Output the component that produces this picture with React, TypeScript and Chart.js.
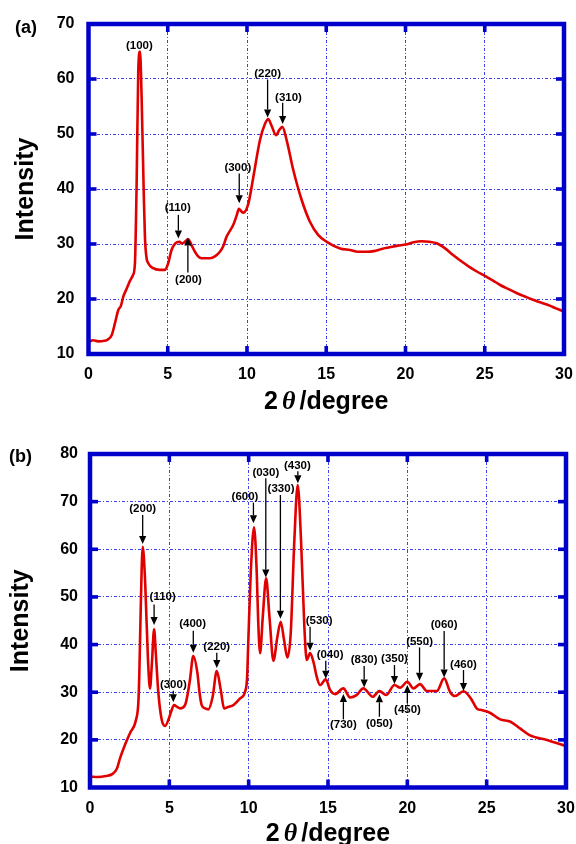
import React, { useEffect, useRef } from 'react';
import { Chart, registerables } from 'chart.js';

Chart.register(...registerables);

// ---------- Panel (a) data ----------
const xA = [0, 0.3, 0.6, 1.0, 1.2, 1.46, 1.67, 1.88, 2.05, 2.19, 2.4, 2.6, 2.8, 2.93, 3.04, 3.14, 3.25, 3.35, 3.48, 3.56, 3.66, 3.77, 4.08, 4.5, 4.82, 5.03, 5.24, 5.56, 5.75, 5.87, 6.0, 6.29, 6.5, 6.71, 6.9, 7.13, 7.66, 8.0, 8.29, 8.5, 8.71, 9.13, 9.35, 9.49, 9.62, 9.77, 10.09, 10.4, 10.82, 11.13, 11.34, 11.55, 11.83, 12.05, 12.23, 12.5, 12.92, 13.45, 13.97, 14.5, 15.03, 15.87, 16.5, 17, 17.5, 18, 18.5, 19, 19.5, 20, 20.5, 21, 21.5, 22, 22.5, 23, 23.5, 24, 24.5, 25, 25.5, 26, 26.5, 27, 27.5, 28, 28.5, 29, 29.5, 30];
const yA = [12.2, 12.5, 12.3, 12.4, 12.6, 13.4, 15.6, 18.0, 18.8, 20.4, 21.8, 23.2, 24.3, 26.5, 41.6, 61.6, 65.0, 56.8, 40, 31.3, 27.5, 26.5, 25.6, 25.3, 25.3, 26.5, 28.9, 30.3, 30.4, 30.1, 30.2, 30.85, 29.8, 28.6, 27.8, 27.4, 27.4, 27.8, 28.6, 29.6, 31.3, 33.45, 35.2, 36.4, 36.0, 35.7, 37.4, 42.2, 48.9, 51.8, 52.7, 51.5, 49.8, 50.8, 51.3, 48.9, 43.45, 38.0, 34.05, 31.6, 30.4, 29.2, 28.9, 28.6, 28.6, 28.7, 29.1, 29.4, 29.7, 29.9, 30.3, 30.5, 30.4, 30.1, 29.2, 28.0, 26.9, 25.9, 25.0, 24.2, 23.4, 22.5, 21.8, 21.1, 20.5, 19.9, 19.4, 18.9, 18.3, 17.7];

const peaksA = ['(100)', '(110)', '(200)', '(300)', '(220)', '(310)'];
const peakLabelXA = [3.21, 5.63, 6.31, 9.42, 11.3, 12.62];
const peakLabelYA = [66.1, 36.5, 23.45, 43.9, 60.85, 56.6];
const arrowXA: (number | null)[] = [null, 5.67, 6.27, 9.51, 11.3, 12.25];
const arrowTailYA: (number | null)[] = [null, 35.3, 24.8, 42.8, 59.9, 55.7];
const arrowTipYA: (number | null)[] = [null, 31.0, 31.2, 37.4, 53.0, 51.8];

// ---------- Panel (b) data ----------
const xB = [0, 0.5, 1.0, 1.4, 1.7, 1.89, 2.2, 2.52, 2.9, 3.05, 3.11, 3.2, 3.32, 3.45, 3.57, 3.68, 3.78, 3.9, 4.04, 4.15, 4.31, 4.52, 4.73, 4.94, 5.1, 5.3, 5.5, 5.67, 5.99, 6.15, 6.3, 6.51, 6.77, 6.9, 7.04, 7.25, 7.46, 7.73, 7.99, 8.24, 8.45, 8.7, 9.04, 9.46, 9.77, 9.9, 9.98, 10.13, 10.34, 10.51, 10.6, 10.72, 10.89, 11.1, 11.31, 11.56, 11.81, 12.02, 12.23, 12.44, 12.65, 12.88, 13.09, 13.3, 13.51, 13.66, 13.87, 14.08, 14.29, 14.5, 14.86, 15.13, 15.45, 15.97, 16.39, 16.8, 17.23, 17.82, 18.24, 18.66, 19.19, 19.55, 20.0, 20.39, 20.8, 21.23, 21.86, 22.32, 22.7, 23.0, 23.54, 24.0, 24.4, 24.59, 25.2, 25.85, 26.5, 27.1, 27.7, 28.8, 30];
const yB = [12.3, 12.2, 12.4, 12.8, 14.0, 16.1, 18.9, 21.4, 24.2, 28, 34, 48, 60.5, 55, 44.5, 35, 30.8, 36, 43.2, 38, 29.8, 24.2, 22.9, 24.2, 25.8, 27.3, 26.9, 26.6, 27.3, 29.5, 32.6, 37.6, 34, 30, 27.3, 26.6, 26.4, 29.05, 34.45, 30.5, 26.6, 26.9, 27.3, 28.7, 30.1, 33, 40.95, 55, 64.6, 55, 45, 38.2, 45.85, 53.9, 45.85, 36.6, 41.65, 44.8, 40.95, 37.3, 42.35, 61.95, 73.5, 61.95, 43.75, 36.75, 38.2, 36.4, 33.25, 31.5, 32.7, 30.5, 29.6, 30.8, 28.9, 29.4, 30.8, 29.05, 30.25, 29.4, 31.5, 30.95, 32.2, 30.8, 31.7, 30.25, 30.25, 32.9, 30.0, 29.2, 30.2, 28.7, 26.5, 26.3, 25.7, 24.3, 23.8, 22.4, 21.0, 19.97, 18.7];

const peaksB = ['(200)', '(110)', '(300)', '(400)', '(220)', '(600)', '(030)', '(330)', '(430)', '(530)', '(040)', '(730)', '(830)', '(050)', '(350)', '(450)', '(550)', '(060)', '(460)'];
const peakLabelXB = [3.32, 4.58, 5.25, 6.47, 7.99, 9.77, 11.08, 12.04, 13.07, 14.44, 15.13, 15.97, 17.28, 18.24, 19.19, 20.01, 20.77, 22.32, 23.54];
const peakLabelYB = [68.45, 50.05, 31.5, 44.25, 39.55, 71.05, 76.15, 72.6, 77.55, 45.0, 37.8, 23.1, 36.9, 23.45, 36.97, 26.26, 40.5, 44.1, 35.85];
const arrowXB: (number | null)[] = [3.32, 4.04, 5.25, 6.51, 7.99, 10.3, 11.08, 12.0, 13.1, 13.87, 14.86, 15.97, 17.28, 18.24, 19.19, 20.0, 20.77, 22.32, 23.54];
const arrowTailYB: (number | null)[] = [67.2, 48.4, 30.3, 42.9, 38.3, 69.8, 74.9, 71.4, 76.4, 43.75, 36.6, 24.3, 35.5, 24.85, 35.7, 27.7, 39.4, 42.85, 34.66];
const arrowTipYB: (number | null)[] = [61.1, 44.1, 27.9, 38.3, 35.1, 65.45, 54.1, 45.4, 73.85, 38.7, 32.8, 29.6, 31.0, 29.55, 31.7, 31.5, 32.4, 33.1, 30.25];

const xTickValues = [0, 5, 10, 15, 20, 25, 30];

const FONT = '"Liberation Sans", Arial, sans-serif';
const FRAME = '#0000CC';

type PanelProps = {
  tag: string;
  xs: number[];
  ys: number[];
  yMax: number;
  labels: string[];
  lx: number[];
  ly: number[];
  ax: (number | null)[];
  tail: (number | null)[];
  tip: (number | null)[];
  geom: {
    axisW: number; padR: number; padT: number; axisH: number;
    tagX: number; tagY: number; yTitleX: number; xTitleY: number;
    yTickPad: number; xTickPad: number;
  };
};

function Panel(p: PanelProps) {
  const ref = useRef<HTMLCanvasElement | null>(null);
  useEffect(() => {
    const canvas = ref.current;
    if (!canvas) return;
    const g = p.geom;
    const yTicks: number[] = [];
    for (let v = 10; v <= p.yMax; v += 10) yTicks.push(v);

    const decor = {
      id: 'decor',
      afterDatasetsDraw(chart: any) {
        const { ctx, chartArea, scales } = chart;
        const { left, right, top, bottom } = chartArea;
        const sx = scales.x, sy = scales.y;
        ctx.save();
        // frame
        ctx.strokeStyle = FRAME;
        ctx.lineWidth = 4.5;
        ctx.strokeRect(left, top, right - left, bottom - top);
        ctx.fillStyle = FRAME;
        const tl = 8, tw = 3.6;
        xTickValues.slice(1, -1).forEach((v) => {
          const px = sx.getPixelForValue(v);
          ctx.fillRect(px - tw / 2, bottom - tl, tw, tl);
          ctx.fillRect(px - tw / 2, top, tw, tl);
        });
        yTicks.slice(1, -1).forEach((v) => {
          const py = sy.getPixelForValue(v);
          ctx.fillRect(left, py - tw / 2, tl, tw);
          ctx.fillRect(right - tl, py - tw / 2, tl, tw);
        });
        // annotations
        ctx.fillStyle = '#000';
        ctx.strokeStyle = '#000';
        ctx.font = 'bold 11.5px ' + FONT;
        ctx.textAlign = 'center';
        ctx.textBaseline = 'middle';
        p.labels.forEach((t, i) => {
          ctx.fillText(t, sx.getPixelForValue(p.lx[i]), sy.getPixelForValue(p.ly[i]));
          const a = p.ax[i], y1 = p.tail[i], y2 = p.tip[i];
          if (a == null || y1 == null || y2 == null) return;
          const px = sx.getPixelForValue(a);
          const p1 = sy.getPixelForValue(y1);
          const p2 = sy.getPixelForValue(y2);
          const dir = p2 > p1 ? 1 : -1;
          const hl = 8, hw = 3.6;
          ctx.lineWidth = 1.3;
          ctx.beginPath();
          ctx.moveTo(px, p1);
          ctx.lineTo(px, p2 - dir * hl);
          ctx.stroke();
          ctx.beginPath();
          ctx.moveTo(px, p2);
          ctx.lineTo(px - hw, p2 - dir * hl);
          ctx.lineTo(px + hw, p2 - dir * hl);
          ctx.closePath();
          ctx.fill();
        });
        // panel tag
        ctx.textAlign = 'left';
        ctx.textBaseline = 'alphabetic';
        ctx.font = 'bold 18px ' + FONT;
        ctx.fillText(p.tag, g.tagX, g.tagY);
        // y title
        ctx.save();
        ctx.translate(g.yTitleX, (top + bottom) / 2);
        ctx.rotate(-Math.PI / 2);
        ctx.textAlign = 'center';
        ctx.font = 'bold 25px ' + FONT;
        ctx.fillText('Intensity', 0, 0);
        ctx.restore();
        // x title: 2θ /degree with italic theta
        const f1 = 'bold 25px ' + FONT;
        const f2 = 'italic bold 26px "Liberation Serif", serif';
        ctx.font = f1;
        const w1 = ctx.measureText('2').width;
        const w3 = ctx.measureText('/degree').width;
        ctx.font = f2;
        const w2 = ctx.measureText('θ').width;
        const gap1 = 4, gap2 = 4;
        const total = w1 + gap1 + w2 + gap2 + w3;
        let cx = (left + right) / 2 - total / 2;
        ctx.textAlign = 'left';
        ctx.font = f1;
        ctx.fillText('2', cx, g.xTitleY);
        cx += w1 + gap1;
        ctx.font = f2;
        ctx.fillText('θ', cx, g.xTitleY);
        cx += w2 + gap2;
        ctx.font = f1;
        ctx.fillText('/degree', cx, g.xTitleY);
        ctx.restore();
      },
    };

    const chart = new Chart(canvas, {
      type: 'line',
      data: {
        datasets: [
          {
            data: p.xs.map((x, i) => ({ x, y: p.ys[i] })),
            borderColor: 'rgb(225,0,0)',
            borderWidth: 2.6,
            pointRadius: 0,
            cubicInterpolationMode: 'monotone',
            fill: false,
          },
        ],
      },
      options: {
        responsive: false,
        maintainAspectRatio: false,
        animation: false,
        events: [],
        layout: { padding: { left: 0, right: g.padR, top: g.padT, bottom: 0 } },
        plugins: { legend: { display: false }, tooltip: { enabled: false }, title: { display: false } },
        scales: {
          x: {
            type: 'linear',
            min: 0,
            max: 30,
            afterFit: (s: any) => { s.height = g.axisH; s.paddingLeft = 0; s.paddingRight = 0; },
            afterBuildTicks: (s: any) => { s.ticks = xTickValues.map((v) => ({ value: v })); },
            ticks: {
              font: { family: FONT, size: 16, weight: 'bold' },
              color: '#000',
              padding: g.xTickPad,
              maxRotation: 0,
            },
            grid: { color: 'rgba(30,30,230,0.85)', lineWidth: 1, drawTicks: false },
            border: { display: false, dash: [3, 2, 1, 2] },
          },
          y: {
            type: 'linear',
            min: 10,
            max: p.yMax,
            afterFit: (s: any) => { s.width = g.axisW; s.paddingTop = 0; s.paddingBottom = 0; },
            afterBuildTicks: (s: any) => { s.ticks = yTicks.map((v) => ({ value: v })); },
            ticks: {
              font: { family: FONT, size: 16, weight: 'bold' },
              color: '#000',
              padding: g.yTickPad,
            },
            grid: { color: 'rgba(30,30,230,0.85)', lineWidth: 1, drawTicks: false },
            border: { display: false, dash: [3, 2, 1, 2] },
          },
        },
      },
      plugins: [decor],
    } as any);
    return () => chart.destroy();
  }, []);
  return <canvas ref={ref} width={576} height={422} style={{ display: 'block', width: 576, height: 422 }} />;
}

export default function App() {
  return (
    <div style={{ position: 'absolute', left: 0, top: 0, width: 576, height: 844, background: '#fff', overflow: 'hidden' }}>
      <Panel
        tag="(a)"
        xs={xA}
        ys={yA}
        yMax={70}
        labels={peaksA}
        lx={peakLabelXA}
        ly={peakLabelYA}
        ax={arrowXA}
        tail={arrowTailYA}
        tip={arrowTipYA}
        geom={{ axisW: 88.5, padR: 12, padT: 24, axisH: 68, tagX: 15, tagY: 33, yTitleX: 33, xTitleY: 409, yTickPad: 14, xTickPad: 11 }}
      />
      <Panel
        tag="(b)"
        xs={xB}
        ys={yB}
        yMax={80}
        labels={peaksB}
        lx={peakLabelXB}
        ly={peakLabelYB}
        ax={arrowXB}
        tail={arrowTailYB}
        tip={arrowTipYB}
        geom={{ axisW: 90, padR: 10, padT: 32, axisH: 56.5, tagX: 9, tagY: 40, yTitleX: 28, xTitleY: 419, yTickPad: 12, xTickPad: 11 }}
      />
    </div>
  );
}
